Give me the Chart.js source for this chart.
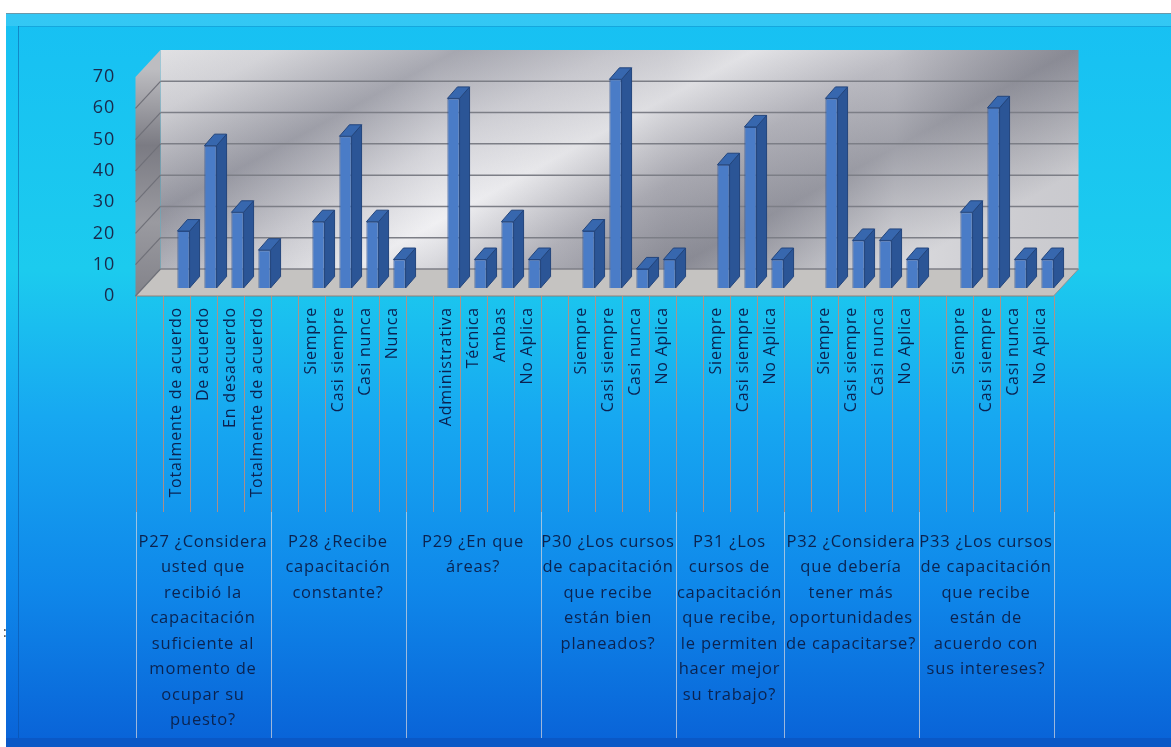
<!DOCTYPE html>
<html>
<head>
<meta charset="utf-8">
<script src="https://cdn.jsdelivr.net/npm/chart.js@4.4.0/dist/chart.umd.min.js"></script>
<style>
  html, body { margin: 0; padding: 0; background: #fff; }
  canvas { display: block; }
</style>
</head>
<body>
<canvas id="capacitacion-chart" width="1171" height="747"></canvas>
<script>
// Respuestas P27-P33 (% de 33 encuestados). Cada pregunta deja un hueco vacio delante.
var answerLabels = [
  '', 'Totalmente de acuerdo', 'De acuerdo', 'En desacuerdo', 'Totalmente de acuerdo',
  '', 'Siempre', 'Casi siempre', 'Casi nunca', 'Nunca',
  '', 'Administrativa', 'Técnica', 'Ambas', 'No Aplica',
  '', 'Siempre', 'Casi siempre', 'Casi nunca', 'No Aplica',
  '', 'Siempre', 'Casi siempre', 'No Aplica',
  '', 'Siempre', 'Casi siempre', 'Casi nunca', 'No Aplica',
  '', 'Siempre', 'Casi siempre', 'Casi nunca', 'No Aplica'
];
var answerPercents = [
  null, 18.2, 45.5, 24.2, 12.1,
  null, 21.2, 48.5, 21.2, 9.1,
  null, 60.6, 9.1, 21.2, 9.1,
  null, 18.2, 66.7, 6.1, 9.1,
  null, 39.4, 51.5, 9.1,
  null, 60.6, 15.2, 15.2, 9.1,
  null, 24.2, 57.6, 9.1, 9.1
];
var questionSpans = [5, 5, 5, 5, 4, 5, 5];
var questionTexts = [
  ['P27 ¿Considera', 'usted que', 'recibió la', 'capacitación', 'suficiente al', 'momento de', 'ocupar su', 'puesto?'],
  ['P28 ¿Recibe', 'capacitación', 'constante?'],
  ['P29 ¿En que', 'áreas?'],
  ['P30 ¿Los cursos', 'de capacitación', 'que recibe', 'están bien', 'planeados?'],
  ['P31 ¿Los', 'cursos de', 'capacitación', 'que recibe,', 'le permiten', 'hacer mejor', 'su trabajo?'],
  ['P32 ¿Considera', 'que debería', 'tener más', 'oportunidades', 'de capacitarse?'],
  ['P33 ¿Los cursos', 'de capacitación', 'que recibe', 'están de', 'acuerdo con', 'sus intereses?']
];
var valueMax = 70;
var valueStep = 10;

// offsets of the pseudo-3D box relative to the plane of the bar fronts
var frontOff = { dx: -7.5, dy: 8 };
var backOff = { dx: 17.5, dy: -19 };
var barOff = { dx: 10, dy: -11.5 };

function poly(ctx, pts, fill, stroke) {
  ctx.beginPath();
  ctx.moveTo(pts[0][0], pts[0][1]);
  for (var i = 1; i < pts.length; i++) ctx.lineTo(pts[i][0], pts[i][1]);
  ctx.closePath();
  if (fill) { ctx.fillStyle = fill; ctx.fill(); }
  if (stroke) { ctx.strokeStyle = stroke; ctx.lineWidth = 1; ctx.stroke(); }
}

function line(ctx, x1, y1, x2, y2, color, width) {
  ctx.beginPath();
  ctx.moveTo(x1, y1);
  ctx.lineTo(x2, y2);
  ctx.strokeStyle = color;
  ctx.lineWidth = width || 1;
  ctx.stroke();
}

var boxPlugin = {
  id: 'box3d',
  beforeDraw: function (chart) {
    var ctx = chart.ctx, w = chart.width, h = chart.height;
    var xs = chart.scales.x, ys = chart.scales.y;
    var L = xs.left, R = xs.right;
    var T = ys.getPixelForValue(valueMax), B = ys.getPixelForValue(0);
    var slot = (R - L) / answerLabels.length;

    ctx.save();
    ctx.fillStyle = '#ffffff';
    ctx.fillRect(0, 0, w, h);

    // blue panel behind everything
    var bg = ctx.createLinearGradient(0, 13, 0, h);
    bg.addColorStop(0, '#17c0f3');
    bg.addColorStop(0.35, '#1ccbee');
    bg.addColorStop(0.55, '#17a8f1');
    bg.addColorStop(0.78, '#0f88ea');
    bg.addColorStop(1, '#0962d7');
    ctx.fillStyle = bg;
    ctx.fillRect(6, 13, w - 6, h - 13);
    ctx.fillStyle = 'rgba(255,255,255,0.12)';
    ctx.fillRect(6, 13, w - 6, 13);
    line(ctx, 6, 13.5, w, 13.5, 'rgba(120,140,150,0.8)', 1);
    ctx.fillStyle = '#0a58c6';
    ctx.fillRect(6, 738, w - 6, h - 738);
    line(ctx, 18.5, 26, 18.5, 738, 'rgba(10,70,150,0.45)', 1);
    line(ctx, 18, 26.5, w, 26.5, 'rgba(10,90,160,0.25)', 1);

    // back wall
    var bx1 = L + backOff.dx, bx2 = R + backOff.dx;
    var by1 = T + backOff.dy, by2 = B + backOff.dy;
    var metal = ctx.createLinearGradient(bx1, by1, bx1 + 260, by2 + 260);
    metal.addColorStop(0, '#f3f3f5');
    metal.addColorStop(0.1, '#dedee2');
    metal.addColorStop(0.26, '#9c9da7');
    metal.addColorStop(0.4, '#cfcfd5');
    metal.addColorStop(0.52, '#eeeef1');
    metal.addColorStop(0.66, '#b2b2ba');
    metal.addColorStop(0.8, '#8f909a');
    metal.addColorStop(1, '#d6d6da');
    ctx.fillStyle = metal;
    ctx.fillRect(bx1, by1, bx2 - bx1, by2 - by1);
    var sheen = ctx.createLinearGradient(bx1, 0, bx2, 0);
    sheen.addColorStop(0, 'rgba(60,60,70,0.10)');
    sheen.addColorStop(0.3, 'rgba(255,255,255,0.12)');
    sheen.addColorStop(0.55, 'rgba(70,70,80,0.10)');
    sheen.addColorStop(0.8, 'rgba(255,255,255,0.14)');
    sheen.addColorStop(1, 'rgba(60,60,70,0.08)');
    ctx.fillStyle = sheen;
    ctx.fillRect(bx1, by1, bx2 - bx1, by2 - by1);

    // side wall
    var fx = L + frontOff.dx;
    var side = ctx.createLinearGradient(0, T, 0, B);
    side.addColorStop(0, '#bdbdc1');
    side.addColorStop(0.35, '#7b7b83');
    side.addColorStop(0.7, '#9a9aa0');
    side.addColorStop(1, '#85858c');
    poly(ctx, [[fx, T + frontOff.dy], [bx1, by1], [bx1, by2], [fx, B + frontOff.dy]], side);

    // floor
    poly(ctx, [[fx, B + frontOff.dy], [R + frontOff.dx, B + frontOff.dy], [bx2, by2], [bx1, by2]], '#c5c3c1');
    line(ctx, fx, B + frontOff.dy, R + frontOff.dx, B + frontOff.dy, 'rgba(150,120,110,0.9)', 1);
    line(ctx, R + frontOff.dx, B + frontOff.dy, bx2, by2, 'rgba(150,140,140,0.9)', 1);

    // gridlines on back and side walls
    for (var v = 0; v < valueMax; v += valueStep) {
      var py = ys.getPixelForValue(v);
      line(ctx, bx1, py + backOff.dy, bx2, py + backOff.dy, '#7c7e86', 1.5);
      line(ctx, fx, py + frontOff.dy, bx1, py + backOff.dy, '#6f7078', 1.2);
    }

    // category separators; question boundaries run to the bottom
    var bounds = {};
    var k = 0;
    bounds[0] = true;
    questionSpans.forEach(function (n) { k += n; bounds[k] = true; });
    for (var i = 0; i <= answerLabels.length; i++) {
      var sx = Math.round(L + i * slot + frontOff.dx) + 0.5;
      line(ctx, sx, B + frontOff.dy, sx, 512, 'rgba(196,140,120,0.85)', 1);
      if (bounds[i]) line(ctx, sx, 512, sx, 738, 'rgba(205,210,220,0.75)', 1);
    }
    ctx.restore();

    // the axis labels are set a little loose
    ctx.letterSpacing = '0.8px';
  },
  afterDatasetsDraw: function (chart) {
    var ctx = chart.ctx;
    var meta = chart.getDatasetMeta(0);
    ctx.save();
    meta.data.forEach(function (bar, i) {
      if (answerPercents[i] == null) return;
      var p = bar.getProps(['x', 'y', 'base', 'width'], true);
      var l = p.x - p.width / 2, r = p.x + p.width / 2;
      poly(ctx, [[r, p.y], [r + barOff.dx, p.y + barOff.dy], [r + barOff.dx, p.base + barOff.dy], [r, p.base]], '#2b5596', '#23457c');
      poly(ctx, [[l, p.y], [l + barOff.dx, p.y + barOff.dy], [r + barOff.dx, p.y + barOff.dy], [r, p.y]], '#3767ae', '#23457c');
    });
    ctx.restore();
  },
  afterDraw: function (chart) {
    var ctx = chart.ctx;
    var xs = chart.scales.x;
    var slot = (xs.right - xs.left) / answerLabels.length;
    ctx.save();
    ctx.letterSpacing = '0.8px';
    ctx.font = '16.5px "Open Sans"';
    ctx.fillStyle = '#0b2350';
    ctx.textAlign = 'center';
    ctx.textBaseline = 'middle';
    var start = 0;
    questionSpans.forEach(function (n, g) {
      var cx = xs.left + (start + n / 2) * slot + frontOff.dx;
      questionTexts[g].forEach(function (t, j) {
        ctx.fillText(t, cx, 542 + j * 25.5);
      });
      start += n;
    });
    ctx.letterSpacing = '0px';
    ctx.fillStyle = '#444';
    ctx.font = '14px "Open Sans"';
    ctx.textAlign = 'left';
    ctx.fillText(':', 3, 633);
    ctx.restore();
  }
};

var ctx = document.getElementById('capacitacion-chart').getContext('2d');
new Chart(ctx, {
  type: 'bar',
  data: {
    labels: answerLabels,
    datasets: [{
      data: answerPercents,
      backgroundColor: '#4a7cc7',
      borderColor: '#2a4f8f',
      borderWidth: 1,
      barPercentage: 0.45,
      categoryPercentage: 1
    }]
  },
  options: {
    responsive: false,
    animation: false,
    layout: { padding: { top: 69, right: 110, left: 0, bottom: 0 } },
    plugins: {
      legend: { display: false },
      tooltip: { enabled: false }
    },
    scales: {
      x: {
        grid: { display: false, drawTicks: false },
        border: { display: false },
        ticks: {
          autoSkip: false,
          minRotation: 90,
          maxRotation: 90,
          padding: 19,
          labelOffset: frontOff.dx,
          color: '#0c2150',
          font: { family: 'Open Sans', size: 16 }
        },
        afterFit: function (scale) { scale.height = 459; }
      },
      y: {
        min: 0,
        max: valueMax,
        grid: { display: false, drawTicks: false },
        border: { display: false },
        ticks: {
          stepSize: valueStep,
          padding: 28,
          labelOffset: frontOff.dy,
          color: '#1a2a4c',
          font: { family: 'Open Sans', size: 18 }
        },
        afterFit: function (scale) { scale.width = 143; }
      }
    }
  },
  plugins: [boxPlugin]
});
</script>
</body>
</html>
